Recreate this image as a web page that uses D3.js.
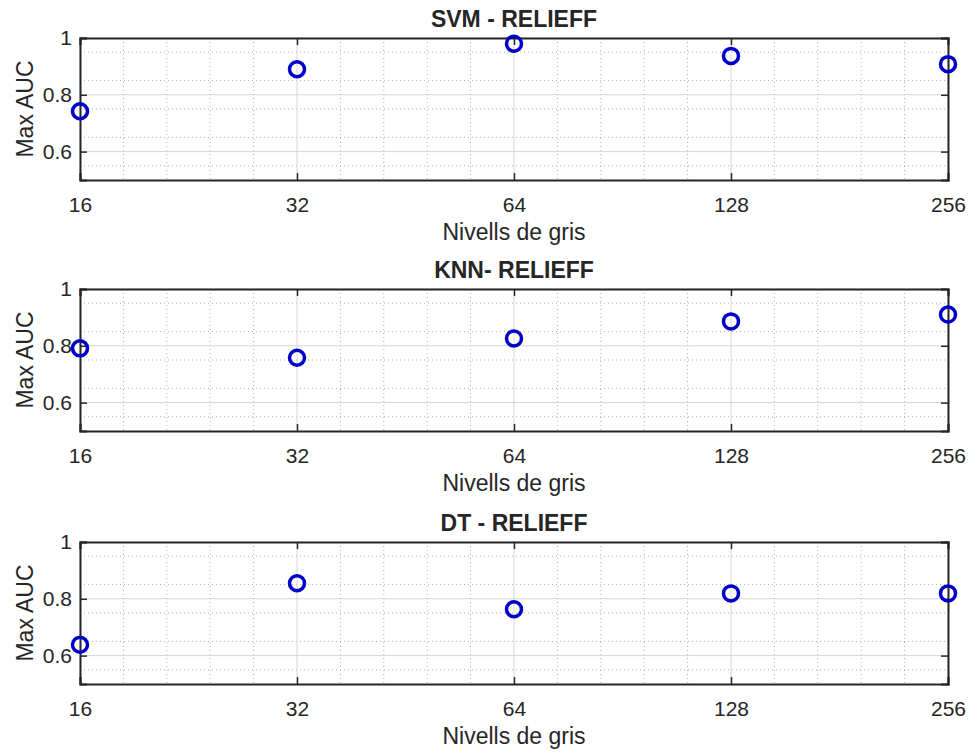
<!DOCTYPE html>
<html>
<head>
<meta charset="utf-8">
<script src="https://cdn.jsdelivr.net/npm/d3@7"></script>
<style>
  body { margin: 0; background: #fff; }
  text { font-family: "Liberation Sans", Arial, sans-serif; fill: #262626; }
</style>
</head>
<body>
<div id="chart"></div>
<script>
var width = 971,
    height = 753;

var levels = [16, 32, 64, 128, 256];
var titles = ["SVM - RELIEFF", "KNN- RELIEFF", "DT - RELIEFF"];
var svmAuc = [0.742, 0.89, 0.98, 0.937, 0.908];
var knnAuc = [0.791, 0.758, 0.826, 0.886, 0.91];
var dtAuc = [0.638, 0.855, 0.763, 0.819, 0.819];
var yTicks = [0.6, 0.8, 1];
var series = [svmAuc, knnAuc, dtAuc];

var panelTops = [38, 289, 542],
    panelHeight = 142,
    left = 80,
    right = 948;

var svg = d3.select("#chart")
    .append("svg")
    .attr("width", width)
    .attr("height", height);

var x = d3.scaleLog().base(2)
    .domain([16, 256])
    .range([left, right]);

// minor x ticks: 5 steps per octave in log space
var xMinor = [];
for (var e = 4; e < 8; e++) {
    for (var k = 1; k < 5; k++) xMinor.push(Math.pow(2, e + k / 5));
}
var yMinor = d3.range(0.55, 1.0, 0.05).filter(function (v) {
    return Math.abs(v * 10 - Math.round(v * 10)) > 0.01;
});

series.forEach(function (values, p) {
    var top = panelTops[p],
        bottom = top + panelHeight;

    var y = d3.scaleLinear()
        .domain([0.5, 1])
        .range([bottom, top]);

    var g = svg.append("g").attr("class", "panel");

    // minor grid
    g.selectAll(".mx").data(xMinor).enter().append("line")
        .attr("x1", function (d) { return x(d); })
        .attr("x2", function (d) { return x(d); })
        .attr("y1", top).attr("y2", bottom)
        .attr("stroke", "#b0b0b0")
        .attr("stroke-width", 1)
        .attr("stroke-dasharray", "1,3");
    g.selectAll(".my").data(yMinor).enter().append("line")
        .attr("x1", left).attr("x2", right)
        .attr("y1", function (d) { return y(d); })
        .attr("y2", function (d) { return y(d); })
        .attr("stroke", "#b0b0b0")
        .attr("stroke-width", 1)
        .attr("stroke-dasharray", "1,3");

    // major grid
    g.selectAll(".gx").data(levels).enter().append("line")
        .attr("x1", function (d) { return x(d); })
        .attr("x2", function (d) { return x(d); })
        .attr("y1", top).attr("y2", bottom)
        .attr("stroke", "#d6d6d6");
    g.selectAll(".gy").data(yTicks).enter().append("line")
        .attr("x1", left).attr("x2", right)
        .attr("y1", function (d) { return y(d); })
        .attr("y2", function (d) { return y(d); })
        .attr("stroke", "#d6d6d6");

    // axes (ticks inward, box on)
    var xb = d3.axisBottom(x).tickValues(levels).tickSize(-7).tickPadding(17)
        .tickFormat(d3.format("d"));
    var xt = d3.axisTop(x).tickValues(levels).tickSize(-7).tickFormat("");
    var yl = d3.axisLeft(y).tickValues(yTicks).tickSize(-7).tickPadding(8)
        .tickFormat(function (d) { return d === 1 ? "1" : d3.format(".1f")(d); });
    var yr = d3.axisRight(y).tickValues(yTicks).tickSize(-7).tickFormat("");

    [[xb, "translate(0," + bottom + ")"], [xt, "translate(0," + top + ")"],
     [yl, "translate(" + left + ",0)"], [yr, "translate(" + right + ",0)"]]
        .forEach(function (a) {
            var ax = g.append("g").attr("transform", a[1]).call(a[0]);
            ax.select(".domain").attr("stroke", "#262626").attr("stroke-width", 2);
            ax.selectAll(".tick line").attr("stroke", "#262626").attr("stroke-width", 1.5);
            ax.selectAll("text").style("font-size", "21px").attr("fill", "#3a3a3a");
        });

    // markers
    g.selectAll("circle").data(values).enter().append("circle")
        .attr("cx", function (d, i) { return x(levels[i]); })
        .attr("cy", function (d) { return y(d); })
        .attr("r", 7.5)
        .attr("fill", "none")
        .attr("stroke", "#0000c8")
        .attr("stroke-width", 3.5);

    g.append("text")
        .attr("x", (left + right) / 2)
        .attr("y", top - 11)
        .attr("text-anchor", "middle")
        .style("font-size", "23px")
        .style("font-weight", "bold")
        .attr("fill", "#111")
        .text(titles[p]);

    g.append("text")
        .attr("x", (left + right) / 2)
        .attr("y", bottom + 60)
        .attr("text-anchor", "middle")
        .style("font-size", "23px")
        .attr("fill", "#3a3a3a")
        .text("Nivells de gris");

    g.append("text")
        .attr("transform", "translate(33," + (top + panelHeight / 2) + ") rotate(-90)")
        .attr("text-anchor", "middle")
        .style("font-size", "23px")
        .attr("fill", "#3a3a3a")
        .text("Max AUC");
});
</script>
</body>
</html>
